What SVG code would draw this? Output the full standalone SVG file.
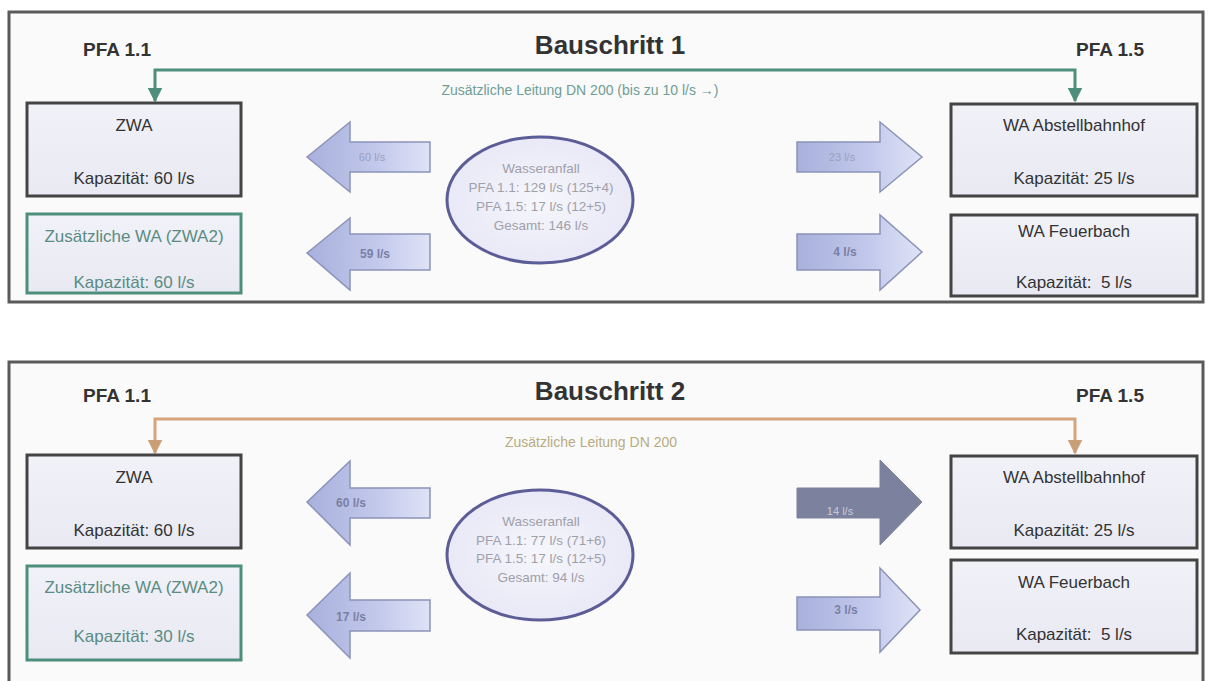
<svg xmlns="http://www.w3.org/2000/svg" width="1212" height="681" viewBox="0 0 1212 681">
<defs>
<linearGradient id="boxFill" x1="0" y1="0" x2="0" y2="1">
<stop offset="0" stop-color="#f1f1f8"/>
<stop offset="1" stop-color="#e9e9f3"/>
</linearGradient>
<radialGradient id="ellFill" cx="0.5" cy="0.5" r="0.6">
<stop offset="0" stop-color="#f6f6fc"/>
<stop offset="1" stop-color="#e6e6f6"/>
</radialGradient>
<linearGradient id="arrFillL" x1="0" y1="0" x2="1" y2="0">
<stop offset="0" stop-color="#a8b0dc"/>
<stop offset="0.6" stop-color="#c4caec"/>
<stop offset="1" stop-color="#dfe3f6"/>
</linearGradient>
<marker id="mGreen" viewBox="0 0 10 10" refX="9" refY="5" markerWidth="5" markerHeight="5" markerUnits="strokeWidth" orient="auto">
<path d="M0,0 L10,5 L0,10 z" fill="#4e8e7c"/>
</marker>
<marker id="mOrange" viewBox="0 0 10 10" refX="9" refY="5" markerWidth="5" markerHeight="5" markerUnits="strokeWidth" orient="auto">
<path d="M0,0 L10,5 L0,10 z" fill="#c99f78"/>
</marker>
</defs>
<style>
text{font-family:"Liberation Sans",Arial,sans-serif;}
.panel{fill:#fafafb;stroke:#5a5a5a;stroke-width:3;}
.pfa{font-size:19px;font-weight:bold;fill:#333;text-anchor:middle;}
.title{font-size:26px;font-weight:bold;fill:#333;text-anchor:middle;}
.box{fill:url(#boxFill);stroke:#444;stroke-width:3;}
.box2{fill:url(#boxFill);stroke:#4e8e7c;stroke-width:3;}
.bt{font-size:17px;fill:#333;text-anchor:middle;white-space:pre;}
.bt2{font-size:17px;fill:#5a8c82;text-anchor:middle;}
.ell{fill:url(#ellFill);stroke:#5c5c96;stroke-width:3;}
.et{font-size:13.5px;fill:#a0a0a8;text-anchor:middle;}
.arr{fill:url(#arrFillL);stroke:#8c93b8;stroke-width:1.5;}
.arrD{fill:#7c819e;stroke:#7c819e;stroke-width:1;}
.at{font-size:12px;fill:#7a80a4;text-anchor:middle;font-weight:bold;}
.atf{font-size:11px;fill:#9aa0bc;text-anchor:middle;}
.lg{fill:none;stroke:#4e8e7c;stroke-width:3;}
.lo{fill:none;stroke:#d5a47c;stroke-width:3;}
.lgt{font-size:14px;fill:#6e9e94;text-anchor:middle;}
.lot{font-size:14px;fill:#b9ab80;text-anchor:middle;}
</style>
<rect width="1212" height="681" fill="#ffffff"/>

<!-- Panel 1 -->
<g id="panel1">
<rect class="panel" x="9" y="12" width="1194" height="290"/>
<text class="pfa" x="117" y="56">PFA 1.1</text>
<text class="title" x="610" y="54">Bauschritt 1</text>
<text class="pfa" x="1110" y="56">PFA 1.5</text>
</g>
<g id="connectors1">
<path class="lg" d="M605,70 H155 V101" marker-end="url(#mGreen)"/>
<path class="lg" d="M605,70 H1075 V101" marker-end="url(#mGreen)"/>
<text class="lgt" x="580" y="95">Zusätzliche Leitung DN 200 (bis zu 10 l/s <tspan font-weight="bold">→</tspan>)</text>
</g>
<g id="zwa1">
<rect class="box" x="27" y="103" width="214" height="93"/>
<text class="bt" x="134" y="131">ZWA</text>
<text class="bt" x="134" y="184">Kapazität: 60 l/s</text>
</g>
<g id="zwa2_1">
<rect class="box2" x="27" y="214" width="214" height="79"/>
<text class="bt2" x="134" y="242">Zusätzliche WA (ZWA2)</text>
<text class="bt2" x="134" y="288">Kapazität: 60 l/s</text>
</g>
<g id="abst1">
<rect class="box" x="951" y="104" width="246" height="92"/>
<text class="bt" x="1074" y="131">WA Abstellbahnhof</text>
<text class="bt" x="1074" y="184">Kapazität: 25 l/s</text>
</g>
<g id="feuer1">
<rect class="box" x="951" y="215" width="246" height="81"/>
<text class="bt" x="1074" y="237">WA Feuerbach</text>
<text class="bt" x="1074" y="288" xml:space="preserve">Kapazität:  5 l/s</text>
</g>
<g id="wasser1">
<ellipse class="ell" cx="540" cy="200" rx="93" ry="63"/>
<text class="et" x="541" y="173">Wasseranfall</text>
<text class="et" x="541" y="192">PFA 1.1: 129 l/s (125+4)</text>
<text class="et" x="541" y="211">PFA 1.5: 17 l/s (12+5)</text>
<text class="et" x="541" y="230">Gesamt: 146 l/s</text>
</g>
<g id="arrows1">
<g id="a1tl"><polygon class="arr" points="307,157 350,122 350,142 430,142 430,172 350,172 350,192"/><text class="atf" x="372" y="161">60 l/s</text></g>
<g id="a1bl"><polygon class="arr" points="307,253 350,218 350,234 430,234 430,270 350,270 350,290"/><text class="at" x="375" y="258">59 l/s</text></g>
<g id="a1tr"><polygon class="arr" points="797,142 880,142 880,122 922,157 880,192 880,172 797,172"/><text class="atf" x="842" y="161">23 l/s</text></g>
<g id="a1br"><polygon class="arr" points="797,234 880,234 880,215 922,252 880,290 880,270 797,270"/><text class="at" x="845" y="256">4 l/s</text></g>
</g>

<!-- Panel 2 -->
<g id="panel2">
<rect class="panel" x="9" y="362" width="1194" height="325"/>
<text class="pfa" x="117" y="402">PFA 1.1</text>
<text class="title" x="610" y="400">Bauschritt 2</text>
<text class="pfa" x="1110" y="402">PFA 1.5</text>
</g>
<g id="connectors2">
<path class="lo" d="M605,419 H155 V453" marker-end="url(#mOrange)"/>
<path class="lo" d="M605,419 H1075 V453" marker-end="url(#mOrange)"/>
<text class="lot" x="591" y="447">Zusätzliche Leitung DN 200</text>
</g>
<g id="zwa2">
<rect class="box" x="27" y="455" width="214" height="93"/>
<text class="bt" x="134" y="483">ZWA</text>
<text class="bt" x="134" y="536">Kapazität: 60 l/s</text>
</g>
<g id="zwa2_2">
<rect class="box2" x="27" y="566" width="214" height="94"/>
<text class="bt2" x="134" y="593">Zusätzliche WA (ZWA2)</text>
<text class="bt2" x="134" y="642">Kapazität: 30 l/s</text>
</g>
<g id="abst2">
<rect class="box" x="951" y="456" width="246" height="92"/>
<text class="bt" x="1074" y="483">WA Abstellbahnhof</text>
<text class="bt" x="1074" y="536">Kapazität: 25 l/s</text>
</g>
<g id="feuer2">
<rect class="box" x="951" y="560" width="246" height="93"/>
<text class="bt" x="1074" y="588">WA Feuerbach</text>
<text class="bt" x="1074" y="640" xml:space="preserve">Kapazität:  5 l/s</text>
</g>
<g id="wasser2">
<ellipse class="ell" cx="540" cy="555" rx="93" ry="65"/>
<text class="et" x="541" y="526">Wasseranfall</text>
<text class="et" x="541" y="545">PFA 1.1: 77 l/s (71+6)</text>
<text class="et" x="541" y="563">PFA 1.5: 17 l/s (12+5)</text>
<text class="et" x="541" y="582">Gesamt: 94 l/s</text>
</g>
<g id="arrows2">
<g id="a2tl"><polygon class="arr" points="307,502 350,461 350,488 430,488 430,518 350,518 350,545"/><text class="at" x="336" y="507" style="text-anchor:start">60 l/s</text></g>
<g id="a2bl"><polygon class="arr" points="307,615 350,573 350,600 430,600 430,631 350,631 350,658"/><text class="at" x="336" y="621" style="text-anchor:start">17 l/s</text></g>
<g id="a2tr"><polygon class="arrD" points="797,488 880,488 880,460 922,502 880,545 880,518 797,518"/><text class="atf" x="840" y="515" style="fill:#c8cad8">14 l/s</text></g>
<g id="a2br"><polygon class="arr" points="797,597 880,597 880,568 920,610 880,652 880,630 797,630"/><text class="at" x="846" y="614">3 l/s</text></g>
</g>
</svg>
